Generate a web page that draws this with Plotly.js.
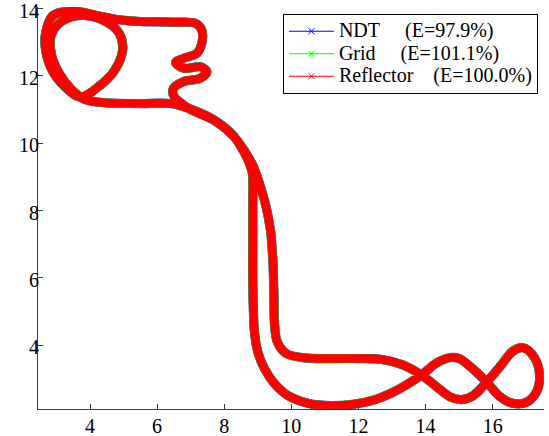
<!DOCTYPE html>
<html>
<head>
<meta charset="utf-8">
<script src="https://cdn.plot.ly/plotly-3.0.1.min.js"></script>
<style>
html,body{margin:0;padding:0;background:#fff;}
#chart{width:549px;height:436px;}
</style>
</head>
<body>
<div id="chart"></div>
<script>
// One lap of the trajectory, shared by the three estimates
const trackX = [8.85, 8.85, 8.85, 8.85, 8.87, 8.9, 9.0, 9.2, 9.5, 9.9, 10.5, 11.2, 11.9, 12.5, 12.95, 13.4, 13.88, 14.33, 14.75, 15.0, 15.4, 15.82, 16.22, 16.6, 17.0, 17.3, 17.4, 17.25, 16.9, 16.6, 16.22, 15.82, 15.42, 15.08, 14.73, 14.33, 13.88, 13.3, 12.7, 12.0, 11.2, 10.4, 9.85, 9.58, 9.5, 9.48, 9.45, 9.38, 9.25, 9.05, 8.85, 8.62, 8.27, 7.7, 7.0, 6.7, 6.5, 6.48, 6.78, 7.28, 7.48, 7.3, 6.8, 6.55, 6.8, 7.18, 7.33, 7.33, 7.15, 6.5, 5.5, 4.8, 4.2, 3.5, 2.9, 2.68, 2.68, 2.88, 3.25, 3.7, 4.3, 4.72, 4.97, 4.88, 4.5, 3.8, 3.15, 2.84, 2.86, 3.1, 3.45, 3.85, 4.5, 5.5, 6.4, 6.9, 7.65, 8.25, 8.6, 8.82, 8.85];
const trackY = [9.0, 8.0, 7.0, 6.0, 5.0, 4.4, 3.8, 3.3, 2.85, 2.5, 2.27, 2.2, 2.25, 2.38, 2.56, 2.8, 3.11, 3.47, 3.63, 3.6, 3.3, 2.9, 2.47, 2.27, 2.3, 2.6, 3.05, 3.62, 3.92, 3.82, 3.36, 2.9, 2.5, 2.38, 2.46, 2.76, 3.11, 3.42, 3.57, 3.6, 3.6, 3.62, 3.75, 4.1, 4.6, 5.5, 6.5, 7.4, 8.1, 8.8, 9.35, 9.75, 10.22, 10.68, 11.0, 11.2, 11.4, 11.62, 11.83, 11.93, 12.12, 12.27, 12.23, 12.4, 12.53, 12.67, 12.97, 13.36, 13.56, 13.6, 13.62, 13.68, 13.8, 13.93, 13.8, 13.3, 12.75, 12.15, 11.68, 11.37, 11.72, 12.15, 12.75, 13.25, 13.6, 13.8, 13.62, 13.2, 12.6, 12.05, 11.6, 11.3, 11.2, 11.18, 11.18, 11.05, 10.72, 10.25, 9.72, 9.2, 9.0];

const seriesLabels = ['NDT', 'Grid', 'Reflector'];
const seriesScores = ['(E=97.9%)', '(E=101.1%)', '(E=100.0%)'];
const labelGaps = [5, 5, 4];
const seriesColors = ['#0000ff', '#00ff00', '#ff0000'];
const bandWidths = [9.2, 8.9, 8.5];

const xTicks = [4, 6, 8, 10, 12, 14, 16];
const yTicks = [4, 6, 8, 10, 12, 14];

const fontFam = 'Liberation Serif, Times New Roman, Times, serif';

const traces = [];
// legend entries (thin line with x markers, hidden under the thick bands)
seriesLabels.forEach((lab, i) => {
  const name = '<span style="font-size:20px">' + lab + '\u00A0'.repeat(labelGaps[i]) + seriesScores[i] + '</span>';
  traces.push({
    x: trackX, y: trackY, type: 'scatter', mode: 'lines+markers', name: name,
    line: {color: seriesColors[i], width: 1, shape: 'spline', smoothing: 1},
    marker: {symbol: 'x-thin-open', size: 6, color: seriesColors[i], line: {width: 1, color: seriesColors[i]}},
    showlegend: true, hoverinfo: 'skip'
  });
});
// the overlapping laps drawn as thick bands
seriesLabels.forEach((lab, i) => {
  traces.push({
    x: trackX, y: trackY, type: 'scatter', mode: 'lines', name: lab,
    line: {color: seriesColors[i], width: bandWidths[i], shape: 'spline', smoothing: 1},
    showlegend: false, hoverinfo: 'skip'
  });
});

const layout = {
  width: 549, height: 436,
  margin: {l: 38, r: 5, t: 7, b: 27, pad: 0},
  paper_bgcolor: '#fff', plot_bgcolor: '#fff',
  showlegend: true,
  font: {family: fontFam, color: '#000', size: 20},
  xaxis: {
    range: [2.45, 17.53], autorange: false, tickvals: xTicks, ticktext: xTicks.map(String),
    showgrid: false, zeroline: false, showline: true, linecolor: '#3a3a3a', linewidth: 1,
    ticks: 'inside', ticklen: 5, tickcolor: '#3a3a3a', mirror: false,
    ticklabeloverflow: 'allow', ticklabelstandoff: -1,
    tickfont: {family: fontFam, size: 20, color: '#000'}
  },
  yaxis: {
    range: [2.1, 14.05], autorange: false, tickvals: yTicks, ticktext: yTicks.map(String),
    showgrid: false, zeroline: false, showline: true, linecolor: '#3a3a3a', linewidth: 1,
    ticks: 'inside', ticklen: 5, tickcolor: '#3a3a3a', mirror: false,
    ticklabeloverflow: 'allow', ticklabelstandoff: -6, ticklabelshift: 2,
    tickfont: {family: fontFam, size: 20, color: '#000'}
  },
  legend: {
    x: 0.988, y: 0.9826, xanchor: 'right', yanchor: 'top',
    bgcolor: '#fff', bordercolor: '#000', borderwidth: 1,
    font: {family: fontFam, size: 15, color: '#000'},
    itemwidth: 45, tracegroupgap: 0
  }
};

Plotly.newPlot('chart', traces, layout, {staticPlot: true, displayModeBar: false});
</script>
</body>
</html>
